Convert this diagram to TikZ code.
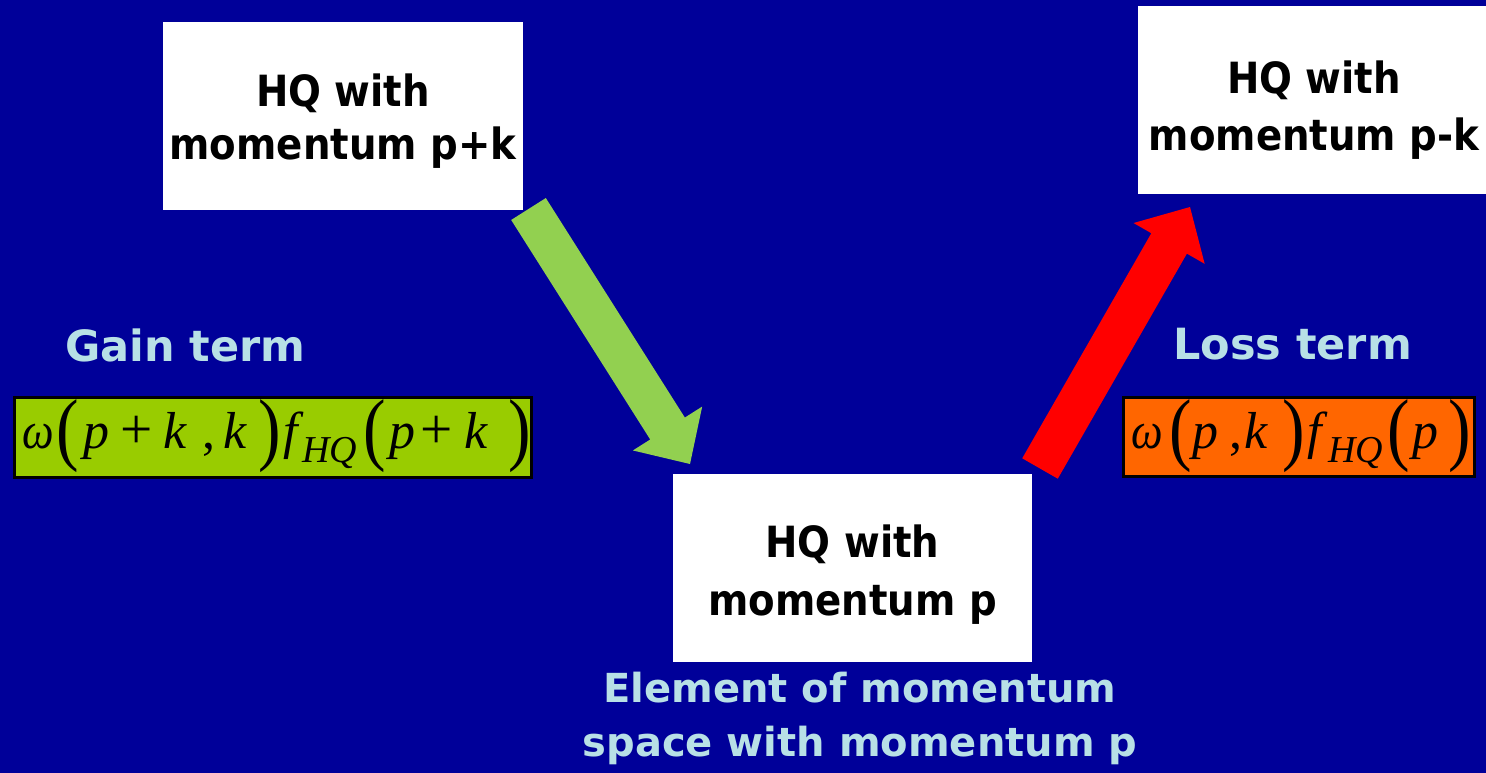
\documentclass[tikz,border=0pt]{standalone}
\usepackage{fontspec}
\usepackage{graphicx}
\usetikzlibrary{calc}
\newfontfamily\hqf[FakeStretch=0.9]{DejaVu Sans}
\newfontfamily\lblf{DejaVu Sans}
\newfontfamily\tnr{Liberation Serif}
\definecolor{bgc}{RGB}{0,0,153}
\definecolor{labelcyan}{RGB}{184,224,230}
\definecolor{garrowc}{RGB}{146,208,80}
\definecolor{rarrowc}{RGB}{255,0,0}
\definecolor{gboxc}{RGB}{153,204,0}
\definecolor{oboxc}{RGB}{255,102,0}
\newcommand\gl[2]{\makebox[0pt][l]{\hspace*{#1}#2}}
\newcommand\lpar{\raisebox{-7.5pt}{\scalebox{1.3}[1.55]{(}}}
\newcommand\rpar{\raisebox{-7.5pt}{\scalebox{1.3}[1.55]{)}}}
\newcommand\plusx{\scalebox{1.1}{+}}
\newcommand\omg{\scalebox{0.86}[1]{\itshape ω}}
\newcommand\subx[1]{\raisebox{-14pt}{\fontsize{38}{40}\selectfont\itshape #1}}
\tikzset{
  hqbox/.style={fill=white, minimum width=360pt, minimum height=188pt, inner sep=0pt, draw=none},
  hqtext/.style={font=\hqf\bfseries\fontsize{43}{53}\selectfont, align=center, inner sep=0pt, text=black},
  lbltext/.style={font=\lblf\bfseries\fontsize{43}{54}\selectfont, text=labelcyan, inner sep=0pt},
  formbox/.style={draw=black, line width=3pt, inner sep=0pt},
  formtext/.style={font=\tnr\fontsize{52}{60}\selectfont, inner sep=0pt, anchor=base west, text=black}
}
\begin{document}
\begin{tikzpicture}[x=1pt,y=-1pt]
\useasboundingbox (0,0) rectangle (1486,773);
\fill[bgc] (0,0) rectangle (1486,773);
\clip (0,0) rectangle (1486,773);

% white boxes
\node[hqbox] (b1) at (343,116) {};
\node[hqtext] (t1) at (343,121.6) {HQ with\\momentum p+k};
\node[hqbox] (b2) at (1318,100) {};
\node[hqtext, font=\hqf\bfseries\fontsize{43}{57}\selectfont] (t2) at (1314,109.7) {HQ with\\momentum p-k};
\node[hqbox, minimum width=359pt] (b3) at (852.5,567.5) {};
\node[hqtext, font=\hqf\bfseries\fontsize{43}{58}\selectfont] (t3) at (852.5,574.2) {HQ with\\momentum p};

% labels
\node[lbltext, anchor=base] (gain) at (185.5,361) {Gain term};
\node[lbltext, anchor=base] (loss) at (1292.5,359) {Loss term};
\node[lbltext, font=\lblf\bfseries\fontsize{40}{54}\selectfont, align=center] (elem) at (860,718) {Element of momentum\\space with momentum p};

% formula boxes
\node[formbox, fill=gboxc, minimum width=517pt, minimum height=80pt] (gbox) at (273,437.5) {};
\node[formbox, fill=oboxc, minimum width=351pt, minimum height=79pt] (obox) at (1299,437) {};

\node[formtext] (gform) at (20,448) {\makebox[510pt][l]{%
\gl{2pt}{\omg}\gl{36pt}{\lpar}\gl{63pt}{\itshape p}\gl{100pt}{\plusx}\gl{143pt}{\itshape k}%
\gl{182pt}{,}\gl{203pt}{\itshape k}\gl{238pt}{\rpar}\gl{263.5pt}{\itshape f}\gl{282pt}{\subx{HQ}}%
\gl{343pt}{\lpar}\gl{369pt}{\itshape p}\gl{400pt}{\plusx}\gl{444pt}{\itshape k}\gl{488pt}{\rpar}}};

\node[formtext] (oform) at (1128,448) {\makebox[340pt][l]{%
\gl{3pt}{\omg}\gl{41pt}{\lpar}\gl{64pt}{\itshape p}\gl{101pt}{,}\gl{116pt}{\itshape k}%
\gl{154pt}{\rpar}\gl{179pt}{\itshape f}\gl{200pt}{\subx{HQ}}\gl{259pt}{\lpar}\gl{284pt}{\itshape p}\gl{320pt}{\rpar}}};

% arrows (shaft 41, head 82 wide, 42 long)
\coordinate (gs) at (528.5,209);
\coordinate (ge) at (690,464);
\coordinate (gb) at ($(ge)!42pt!(gs)$);
\coordinate (rs) at (1040,468.5);
\coordinate (re) at (1190,207);
\coordinate (rb) at ($(re)!42pt!(rs)$);
\fill[garrowc] ($(gs)!20.5pt!90:(ge)$) -- ($(gb)!20.5pt!90:(ge)$) -- ($(gb)!41pt!90:(ge)$) -- (ge)
  -- ($(gb)!41pt!-90:(ge)$) -- ($(gb)!20.5pt!-90:(ge)$) -- ($(gs)!20.5pt!-90:(ge)$) -- cycle;
\fill[rarrowc] ($(rs)!20.5pt!90:(re)$) -- ($(rb)!20.5pt!90:(re)$) -- ($(rb)!41pt!90:(re)$) -- (re)
  -- ($(rb)!41pt!-90:(re)$) -- ($(rb)!20.5pt!-90:(re)$) -- ($(rs)!20.5pt!-90:(re)$) -- cycle;
\end{tikzpicture}
\end{document}
